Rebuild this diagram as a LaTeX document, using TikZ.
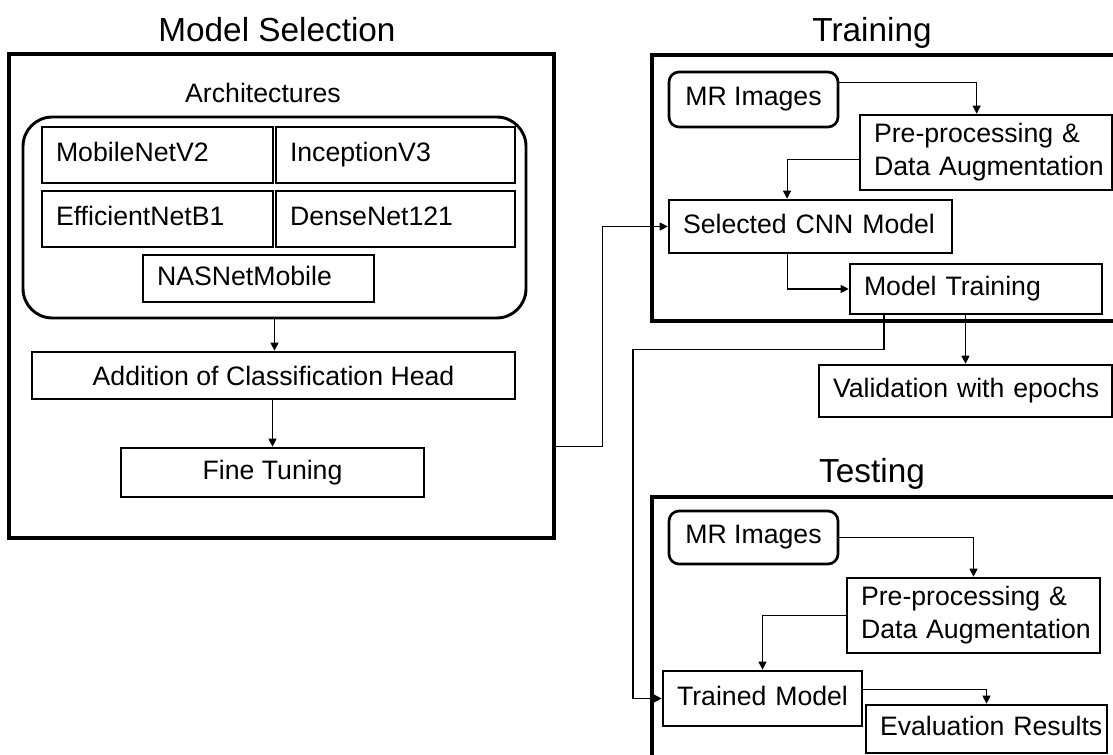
\documentclass[tikz,border=0pt]{standalone}
\usepackage{fontspec}
\setmainfont{Liberation Sans}
\usetikzlibrary{arrows.meta}

\tikzset{
  frame/.style={line width=2.4pt},
  box/.style={draw, line width=2pt, inner sep=0pt, font=\fontsize{20}{24.75}\selectfont},
  lbox/.style={box, align=left, inner xsep=0pt, text width=#1,
    execute at begin node=\hspace*{10.5pt}\strut, execute at end node=\strut},
  link/.style={line width=0.8pt, -{Triangle[length=6pt,width=6pt]}},
  title/.style={anchor=base, font=\fontsize{25}{30}\selectfont},
}

\begin{document}
\begin{tikzpicture}[x=0.75pt,y=-0.75pt]
      \useasboundingbox (0,0) rectangle (1113,755);

      \node[title] (tsel) at (277,42) {Model Selection};
      \node[title] (ttrain) at (872,42) {Training};
      \node[title] (ttest) at (872,482) {Testing};

      \node[draw, frame, inner sep=0pt, minimum width=408.75pt, minimum height=363pt] (msel) at (281.5,296) {};
      \draw[frame] (1113,55) -- (652,55) -- (652,321) -- (1113,321);
      \draw[frame] (1113,497) -- (652,497) -- (652,755);

      % model selection
      \node[font=\fontsize{20}{24.75}\selectfont] (archlbl) at (263,93) {Architectures};
      \node[draw, line width=2.2pt, rounded corners=22pt, minimum width=377.25pt, minimum height=150.75pt] (arch) at (274.5,217.5) {};
      \node[lbox=173.25pt, minimum height=42pt] (mobile) at (157.5,155) {MobileNetV2};
      \node[lbox=179.25pt, minimum height=42pt] (incep) at (395.5,155) {InceptionV3};
      \node[lbox=173.25pt, minimum height=42pt] (effnet) at (157.5,219) {EfficientNetB1};
      \node[lbox=179.25pt, minimum height=42pt] (dense) at (395.5,219) {DenseNet121};
      \node[lbox=173.25pt, minimum height=35.25pt] (nasnet) at (258.5,278.5) {NASNetMobile};
      \node[box, minimum width=362.25pt, minimum height=35.25pt] (addhead) at (273.5,375.5) {Addition of Classification Head};
      \node[box, minimum width=227.25pt, minimum height=36.75pt] (fine) at (272.5,472.5) {Fine Tuning};

      % training
      \node[box, rounded corners=7.5pt, minimum width=126.75pt, minimum height=41.25pt] (mr1) at (753.5,99.5) {MR Images};
      \node[lbox=189pt, minimum height=56.25pt] (pre1) at (986,152.5) {Pre-processing \&\\\hspace*{10.5pt}Data Augmentation};
      \node[lbox=212.25pt, minimum height=39.75pt] (cnn) at (810.5,226.5) {Selected CNN Model};
      \node[lbox=189pt, minimum height=37.5pt] (mt) at (976,289) {Model Training};
      \node[lbox=219.75pt, minimum height=39pt] (val) at (965.5,391) {Validation with epochs};

      % testing
      \node[box, rounded corners=7.5pt, minimum width=126.75pt, minimum height=39.75pt] (mr2) at (753.5,537.5) {MR Images};
      \node[lbox=189.75pt, minimum height=56.25pt] (pre2) at (973.5,615.5) {Pre-processing \&\\\hspace*{10.5pt}Data Augmentation};
      \node[lbox=149.25pt, minimum height=41.25pt] (tm) at (762.5,698.5) {Trained Model};
      \node[lbox=180.75pt, minimum height=36pt] (eval) at (986.5,729) {Evaluation Results};

      \draw[link] (arch.south) -- (addhead.north -| arch.south);
      \draw[link] (fine.north |- addhead.south) -- (fine.north);
      \draw[link] (msel.east |- fine.north) -- ++(47,0) |- (cnn);
      \draw[link] ([yshift=13pt]mr1.east) -| ([xshift=-7pt]pre1.north);
      \draw[link] ([yshift=-5.6pt]pre1.west) -| ([xshift=-17.6pt]cnn.north);
      \draw[link] ([xshift=-17.6pt]cnn.south) |- (mt);
      \draw[link] (val.north |- mt.south) -- (val);
      \draw[link] ([xshift=-69pt]mt.south) -- ++(0,34) -- ++(-251,0) |- (tm);
      \draw[link] (mr2) -| (pre2);
      \draw[link] (pre2) -| (tm);
      \draw[link] ([yshift=7pt]tm.east) -| (eval);
\end{tikzpicture}
\end{document}
